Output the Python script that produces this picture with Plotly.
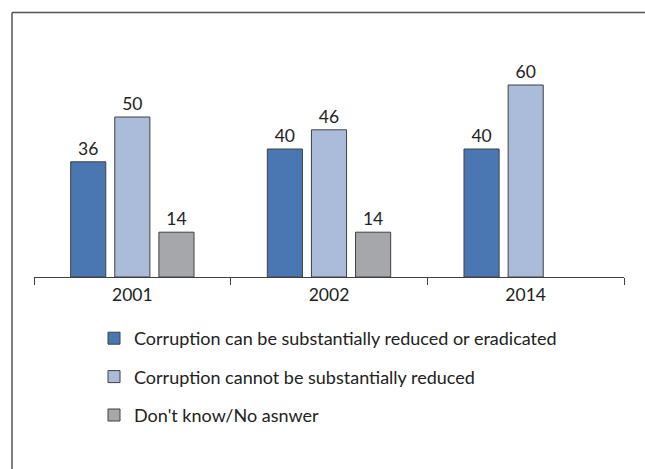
import plotly.graph_objects as go

categories = ["2001", "2002", "2014"]
series_names = [
    "Corruption can be substantially reduced or eradicated",
    "Corruption cannot be substantially reduced",
    "Don't know/No asnwer",
]
can_reduce = [36, 40, 40]
cannot_reduce = [50, 46, 60]
dont_know = [14, 14, None]
colors = ["#4a77b2", "#abbcdb", "#a6a7aa"]

W, H = 645, 469
FONT = "Lato"
TXT = "#222222"

fig = go.Figure()
for i, (name, vals) in enumerate(zip(series_names, [can_reduce, cannot_reduce, dont_know])):
    fig.add_trace(go.Bar(
        x=categories, y=vals, name=name,
        marker=dict(color=colors[i], line=dict(color="#404040", width=1)),
        text=[("" if v is None else str(v)) for v in vals],
        textposition="outside", cliponaxis=False,
        textfont=dict(family=FONT, size=17.5, color=TXT),
        legendgroup=f"g{i}",
    ))

fig.update_layout(
    width=W, height=H,
    margin=dict(l=34, r=21, t=53, b=192, autoexpand=False),
    paper_bgcolor="white", plot_bgcolor="white",
    barmode="group", bargap=0.327, bargroupgap=0.204,
    font=dict(family=FONT, size=17, color=TXT),
    showlegend=True,
    legend=dict(
        xref="container", yref="container",
        x=94 / W, y=1 - 320 / H, xanchor="left", yanchor="top",
        font=dict(family=FONT, size=18, color=TXT),
        tracegroupgap=12, bgcolor="rgba(0,0,0,0)",
    ),
    xaxis=dict(
        type="category", showline=True, linecolor="#404040", linewidth=1,
        ticks="outside", tickson="boundaries", ticklen=7, tickcolor="#404040",
        showgrid=False, tickfont=dict(family=FONT, size=17.5, color=TXT),
        tickangle=0, ticklabelstandoff=2,
    ),
    yaxis=dict(range=[0, 70], visible=False, showgrid=False),
    shapes=[
        dict(type="line", xref="paper", yref="paper",
             x0=(12 - 34) / (W - 55), x1=1.1, y0=1 + (53 - 12.5) / (H - 245), y1=1 + (53 - 12.5) / (H - 245),
             line=dict(color="#555555", width=1.5)),
        dict(type="line", xref="paper", yref="paper",
             x0=(12 - 34) / (W - 55), x1=(12 - 34) / (W - 55), y0=1 + (53 - 12.5) / (H - 245), y1=-1.0,
             line=dict(color="#555555", width=1.5)),
    ],
)

fig.write_html("out.html")
